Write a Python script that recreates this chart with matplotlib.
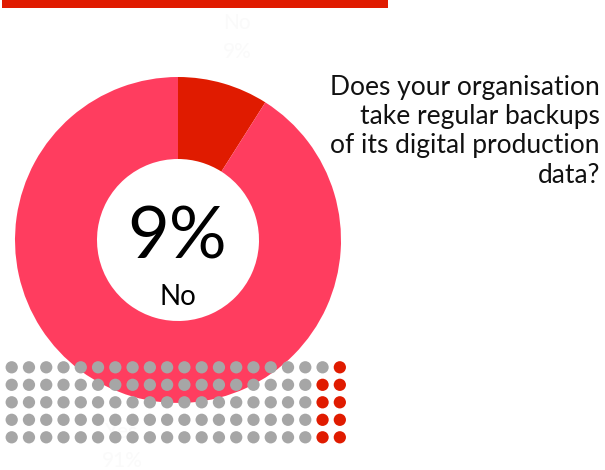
import matplotlib
matplotlib.use("Agg")
import matplotlib.pyplot as plt

plt.rcParams['font.family'] = ['Lato', 'DejaVu Sans']

# survey answer shares (percent)
answers = ['No', 'Yes']
shares = [9, 91]
question = "Does your organisation\ntake regular backups\nof its digital production\ndata?"
progress = 388  # top progress bar length, px

red = '#E01B00'
pink = '#FF3D5F'
grey = '#A6A6A6'
ghost = '#FAFAFA'

W, H = 605, 470
fig = plt.figure(figsize=(W / 100, H / 100), dpi=100)
ax = fig.add_axes([0, 0, 1, 1])

# donut
ax.pie(shares, colors=[red, pink], startangle=90, counterclock=False,
       center=(178, H - 240), radius=163,
       wedgeprops=dict(width=82, linewidth=0))

# faint labels behind everything
ax.text(237, H - 23, answers[0], color=ghost, fontsize=15, ha='center', va='center', zorder=0)
ax.text(237, H - 52, f"{shares[0]}%", color=ghost, fontsize=15, ha='center', va='center', zorder=0)
ax.text(122, H - 432, answers[1], color=ghost, fontsize=15, ha='center', va='center', zorder=0)
ax.text(122, H - 461, f"{shares[1]}%", color=ghost, fontsize=15, ha='center', va='center', zorder=0)

# centre label
ax.text(177, H - 238, f"{shares[0]}%", fontsize=52, ha='center', va='center', color='black')
ax.text(178, H - 297, answers[0], fontsize=20, ha='center', va='center', color='black')

# 100-dot grid, filled from the bottom-right upward
ncols, nrows = 20, 5
xs, ys, cs = [], [], []
for i in range(ncols * nrows):
    col = ncols - 1 - i // nrows
    row = nrows - 1 - i % nrows
    xs.append(11.7 + col * 17.27)
    ys.append(H - (367.3 + row * 17.5))
    cs.append(red if i < shares[0] else grey)
ax.scatter(xs, ys, s=78, c=cs, linewidths=0, zorder=5)

# progress bar along the top
ax.barh(H - 4, progress - 2, height=8, left=2, color=red, zorder=6)

ax.text(600, H - 75, question, fontsize=19, ha='right', va='top',
        linespacing=1.21, color='#111111')

ax.set_xlim(0, W)
ax.set_ylim(0, H)
ax.set_aspect('auto')
ax.axis('off')

fig.savefig('out.png', dpi=100, facecolor='white')
